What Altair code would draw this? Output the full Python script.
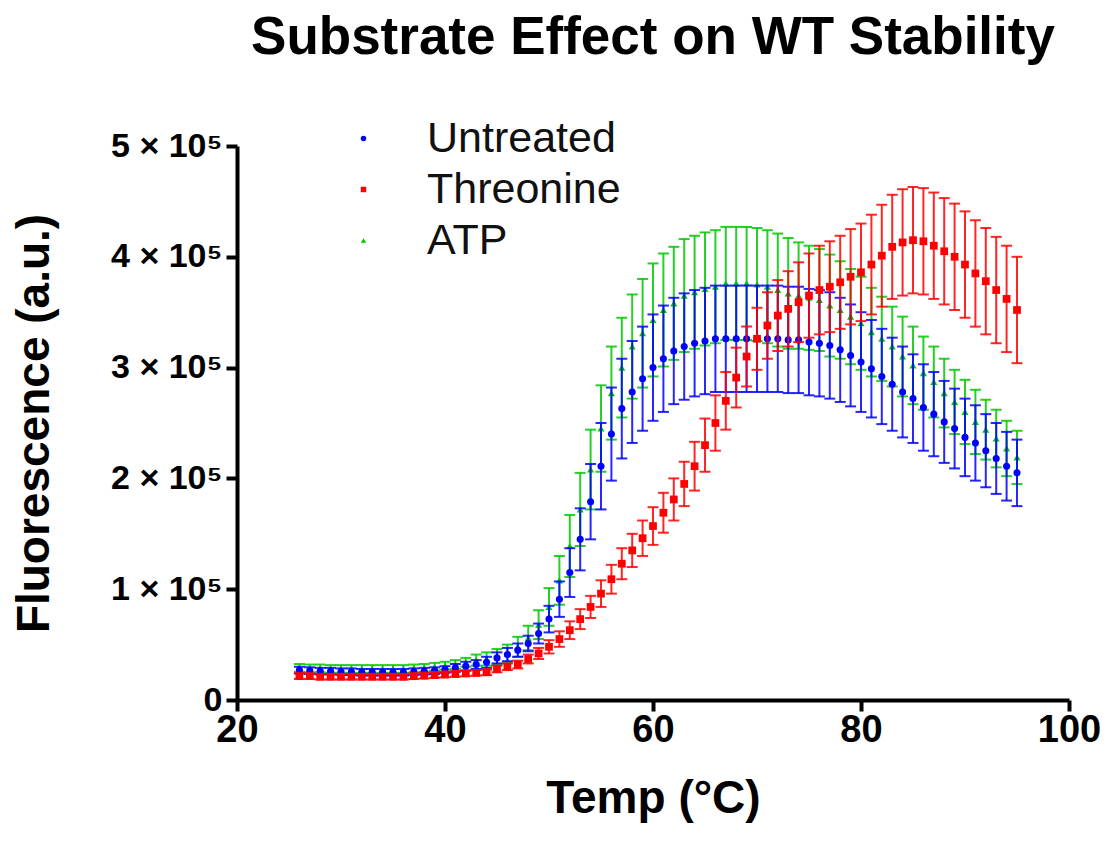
import altair as alt
import pandas as pd

temps = [26, 27, 28, 29, 30, 31, 32, 33, 34, 35, 36, 37, 38, 39, 40, 41, 42, 43, 44, 45,
         46, 47, 48, 49, 50, 51, 52, 53, 54, 55, 56, 57, 58, 59, 60, 61, 62, 63, 64, 65,
         66, 67, 68, 69, 70, 71, 72, 73, 74, 75, 76, 77, 78, 79, 80, 81, 82, 83, 84, 85,
         86, 87, 88, 89, 90, 91, 92, 93, 94, 95]

# values in thousands of a.u.
untreated_mean = [27, 26.5, 26, 26, 25.5, 25.5, 25, 25, 25, 25, 25, 25.5, 26, 26.5, 27.5, 29, 30.5, 32,
                  34, 38, 41, 45, 51, 60, 73, 91, 115, 145, 179, 211, 240, 263, 278, 290, 300, 308,
                  315, 319, 322, 324, 326, 326, 326, 326, 326, 326, 326, 325, 325, 323, 322, 320,
                  316, 311, 305, 299, 292, 285, 278, 272, 264, 258, 251, 245, 237, 232, 225, 218, 211, 205]
untreated_sd = [3, 3, 3, 3, 3, 3, 3, 3, 3, 3, 3, 3, 3, 3, 3,
                3.5, 4, 4, 5, 5, 6, 6, 7, 9, 12, 16, 22, 28, 34, 39, 42, 45, 46, 47, 48,
                48, 48, 48, 48, 48, 48, 48, 48, 48, 48, 48, 48, 48, 48, 48, 48, 48,
                47, 46, 45, 44, 43, 42, 41, 40, 39, 38, 37, 36, 35, 34, 33, 32, 31, 30]

threonine_mean = [21.5, 21.5, 21, 21, 21, 21, 21, 21, 21, 21, 21, 21.5, 22, 22.5, 23, 23.5, 24, 24.5, 25,
                  28, 30, 32, 37, 42, 48, 55, 63, 73, 84, 96, 109, 123, 135, 146, 157, 169, 181, 195,
                  211, 230, 250, 270, 291, 310, 326, 338, 347, 353, 359, 365, 370, 373, 377, 382, 386,
                  393, 401, 409, 413, 415, 414, 410, 405, 400, 393, 385, 378, 370, 362, 352]
threonine_sd = [2.5, 2.5, 2.5, 2.5, 2.5, 2.5, 2.5, 2.5, 2.5, 2.5, 2.5, 2.5, 2.5, 2.5, 2.5, 2.5, 2.5, 2.5, 2.5,
                3, 3, 3.5, 4, 5, 6, 7, 8, 9, 10, 12, 13, 14, 15, 16, 17, 18, 19, 20, 22,
                24, 25, 26, 27, 27, 28, 30, 32, 34, 36, 38, 40, 41, 42, 43, 44, 45, 46, 47, 48,
                48, 48, 48, 48, 48, 48, 48, 48, 48, 48, 48]

atp_mean = [29, 28.5, 28.5, 28, 28, 28, 28, 28, 28, 28, 28, 28.5, 29, 30, 31, 32, 34, 36,
            37, 39, 42, 48, 56, 68, 84, 108, 139, 172, 208, 245, 277, 300, 319, 331, 343, 352,
            358, 365, 368, 371, 373, 376, 376, 376, 375, 373, 370, 367, 365, 363, 361, 356,
            352, 346, 340, 332, 326, 319, 310, 302, 295, 287, 277, 269, 260, 251, 244, 236, 227, 219]
atp_sd = [3.5, 3.5, 3.5, 3.5, 3.5, 3.5, 3.5, 3.5, 3.5, 3.5, 3.5, 3.5, 3.5, 3.5, 3.5,
          4, 4, 5, 6, 7, 8, 9, 11, 13, 17, 22, 28, 33, 36, 39, 42, 45, 47, 49, 51,
          51, 51, 51, 51, 51, 51, 51, 51, 51, 51, 51, 51,
          50, 48, 47, 46, 46, 44, 43, 42, 40, 38, 36, 36, 35, 33, 32, 31, 29, 29, 29, 27, 26, 25, 24]

series_names = ["Untreated", "Threonine", "ATP"]
series_colors = ["#0000FF", "#FF0000", "#00C800"]
series_shapes = ["circle", "square", "triangle-up"]
series_sizes = [50, 60, 50]

rows = []
for name, means, sds in [("Untreated", untreated_mean, untreated_sd),
                         ("Threonine", threonine_mean, threonine_sd),
                         ("ATP", atp_mean, atp_sd)]:
    for t, m, s in zip(temps, means, sds):
        rows.append({"Temp": t, "Series": name, "mean": m * 1000,
                     "lo": (m - s) * 1000, "hi": (m + s) * 1000})
df = pd.DataFrame(rows)

FONT = "Liberation Sans"

x_axis = alt.Axis(values=[20, 40, 60, 80, 100], grid=False, title="Temp (°C)", labelFlush=False,
                  titleX=416, titleY=112, titleBaseline="alphabetic")
y_axis = alt.Axis(values=[0, 100000, 200000, 300000, 400000, 500000], grid=False,
                  title="Fluorescence (a.u.)", labelFlush=False,
                  labelExpr="datum.value == 0 ? '0' : (datum.value / 100000) + ' × 10⁵'",
                  titleX=-189, titleY=277, titleBaseline="alphabetic", titleAngle=270)

x_enc = alt.X("Temp:Q", scale=alt.Scale(domain=[20, 100], nice=False), axis=x_axis)
color_scale = alt.Scale(domain=series_names, range=series_colors)
shape_scale = alt.Scale(domain=series_names, range=series_shapes)

base = alt.Chart(df)
layers = []
for name in ["ATP", "Untreated", "Threonine"]:
    i = series_names.index(name)
    col = series_colors[i]
    sub = base.transform_filter(alt.datum.Series == name)
    rule = sub.mark_rule(strokeWidth=2, color=col, opacity=0.85).encode(
        x=x_enc,
        y=alt.Y("lo:Q", scale=alt.Scale(domain=[0, 500000], nice=False), axis=y_axis),
        y2="hi:Q")
    cap_lo = sub.mark_tick(orient="horizontal", size=11, thickness=2, color=col, opacity=0.85).encode(
        x=x_enc, y=alt.Y("lo:Q"))
    cap_hi = sub.mark_tick(orient="horizontal", size=11, thickness=2, color=col, opacity=0.85).encode(
        x=x_enc, y=alt.Y("hi:Q"))
    pts = sub.mark_point(filled=True, opacity=1, size=series_sizes[i]).encode(
        x=x_enc, y=alt.Y("mean:Q"),
        color=alt.Color("Series:N", scale=color_scale,
                        legend=alt.Legend(title=None, orient="none", legendX=105, legendY=-29,
                                          labelFontSize=43, labelFont=FONT, labelColor="#111111",
                                          labelLimit=0,
                                          symbolSize=30, symbolStrokeWidth=0, rowPadding=7,
                                          labelOffset=42, padding=0)),
        shape=alt.Shape("Series:N", scale=shape_scale, legend=None))
    layers += [rule, cap_lo, cap_hi, pts]

chart = alt.layer(*layers).properties(
    width=832, height=554,
    title=alt.TitleParams("Substrate Effect on WT Stability", fontSize=53, font=FONT,
                          fontWeight="bold", anchor="middle", frame="group", offset=52,
                          color="black"),
    padding={"left": 237, "top": 146, "right": 41, "bottom": 142},
    autosize=alt.AutoSizeParams(type="none"),
).configure_view(stroke=None).configure_axis(
    domainColor="black", domainWidth=4, tickColor="black", tickWidth=4, tickSize=11,
    labelFont=FONT, labelFontWeight="bold", labelColor="black",
    titleFont=FONT, titleFontWeight="bold", titleColor="black", titleFontSize=46,
).configure_axisX(labelFontSize=38, labelPadding=0).configure_axisY(labelFontSize=34, labelPadding=4)

chart.save("out.html", embed_options={"renderer": "svg", "actions": False})
